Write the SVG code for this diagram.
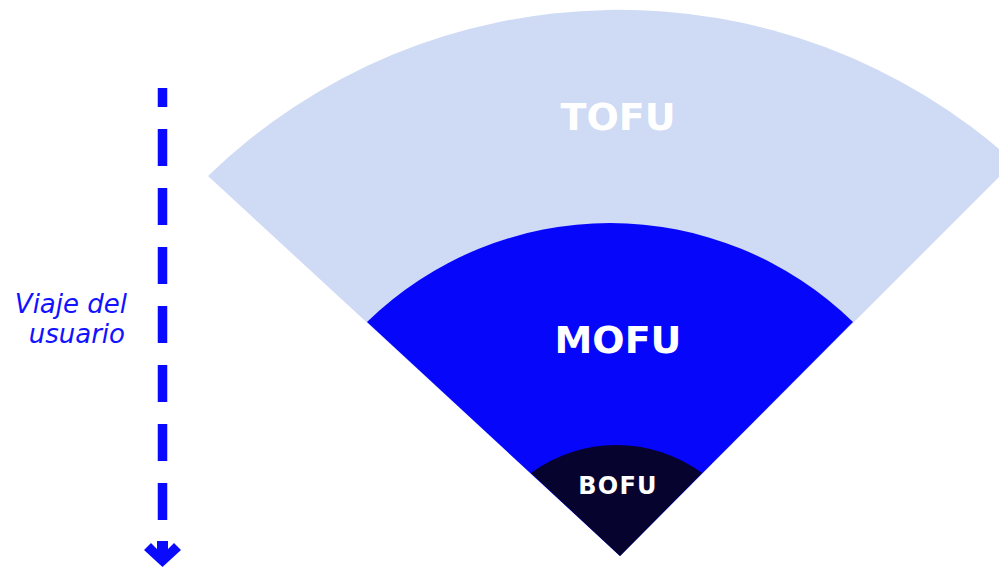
<svg xmlns="http://www.w3.org/2000/svg" width="999" height="568" viewBox="0 0 999 568">
  <style>
    .label { font-family: "DejaVu Sans", "Liberation Sans", sans-serif; font-weight: bold; fill: #ffffff; text-anchor: middle; }
    .side { font-family: "DejaVu Sans", "Liberation Sans", sans-serif; font-style: italic; font-size: 26px; fill: #1212ff; text-anchor: end; }
  </style>
  <rect width="999" height="568" fill="#ffffff"/>

  <!-- funnel stages as nested sectors sharing the bottom apex -->
  <g id="tofu">
    <path d="M620 556 L208 176 A590 590 0 0 1 1014 162 Z" fill="#cfdaf5"/>
    <text class="label" x="618" y="130" font-size="38">TOFU</text>
  </g>
  <g id="mofu">
    <path d="M620 556 L367 322 A348 348 0 0 1 853 322 Z" fill="#0606fa"/>
    <text class="label" x="618" y="353" font-size="38">MOFU</text>
  </g>
  <g id="bofu">
    <path d="M620 556 L531 473 A145 145 0 0 1 702 473 Z" fill="#06032e"/>
    <text class="label" x="618" y="494" font-size="24" letter-spacing="1.2">BOFU</text>
  </g>

  <!-- journey axis: dashed downward arrow with caption -->
  <g id="journey">
    <text class="side" x="127" y="313">Viaje del</text>
    <text class="side" x="125" y="343">usuario</text>
  </g>
  <g id="connectors">
    <line x1="162.5" y1="88" x2="162.5" y2="520" stroke="#0a0aff" stroke-width="9.5" stroke-dasharray="37 22" stroke-dashoffset="18"/>
    <polygon points="157,541 168,541 168,549 174,543 181,550 162.5,567 144,550 151,543 157,549" fill="#0a0aff"/>
  </g>
</svg>
